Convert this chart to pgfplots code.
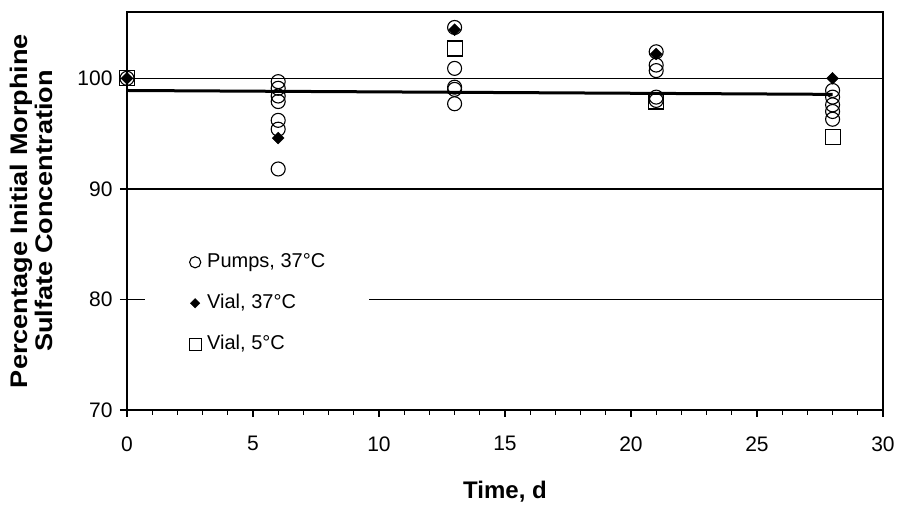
\documentclass[border=0pt]{standalone}
\usepackage{pgfplots}
\pgfplotsset{compat=1.18}
\usepackage{graphicx}
\usepackage{fontspec}
\setmainfont{Liberation Sans}
\begin{document}
\begin{tikzpicture}[x=1pt,y=1pt]
\path[use as bounding box] (-127,-95) rectangle (771,410);
\begin{axis}[
  at={(0,0)}, anchor=south west,
  scale only axis, width=756pt, height=398pt,
  xmin=0, xmax=30, ymin=70, ymax=106,
  xtick={0,5,...,30}, minor x tick num=4,
  ytick={70,80,90,100},
  tick align=outside,
  major tick length=7pt, minor tick length=5pt,
  xtick pos=bottom, ytick pos=left,
  ymajorgrids, grid style={black, line width=1.3pt},
  axis line style={line width=1.8pt},
  every tick/.style={black, line width=1.3pt},
  /pgf/number format/assume math mode=true,
  tick label style={font=\fontsize{21}{25}\selectfont},
  xticklabel style={yshift=-16pt},
  yticklabel style={xshift=-4pt},
  xlabel={Time, d},
  ylabel={\scalebox{1.13}[1]{\begin{tabular}{@{}c@{}}Percentage Initial Morphine\\[-3pt]Sulfate Concentration\end{tabular}}},
  every axis x label/.style={at={(axis description cs:0.5,-0.206)}, anchor=center, font=\fontsize{24}{28}\selectfont\bfseries},
  every axis y label/.style={at={(axis description cs:-0.1224,0.5)}, anchor=center, rotate=90, font=\fontsize{24}{28}\selectfont\bfseries},
  legend cell align=left,
  legend image code/.code={\draw[#1, every mark/.append style={scale=0.8}] plot coordinates {(0pt,0pt)};},
  legend style={at={(axis description cs:0.0238,0.432)}, anchor=north west,
    draw=none, fill=white, inner xsep=44pt, inner ysep=14pt,
    font=\fontsize{20}{24}\selectfont,
    nodes={inner sep=0pt, text height=15pt, text depth=5pt},
    row sep=21pt, column sep=6pt},
]
\addplot[only marks, mark=o, mark size=7pt, mark options={line width=1.1pt, black}] coordinates {
 (0,100)
 (6,99.7) (6,99.1) (6,98.4) (6,97.9) (6,96.2) (6,95.4) (6,91.8)
 (13,104.6) (13,100.9) (13,99.2) (13,99.0) (13,97.7)
 (21,102.4) (21,101.2) (21,100.7) (21,98.3) (21,98.0)
 (28,98.9) (28,98.3) (28,97.6) (28,97.0) (28,96.3)
};
\addlegendentry{Pumps, 37°C}
\addplot[only marks, mark=square*, mark size=4.2pt, mark options={black, fill=black, rotate=45}] coordinates {
 (0,100) (6,94.6) (13,104.4) (21,102.2) (28,100.0)
};
\addlegendentry{Vial, 37°C}
\addplot[only marks, mark=square, mark size=7.5pt, mark options={line width=1.1pt, black}] coordinates {
 (0,100) (13,102.7) (21,97.9) (28,94.7)
};
\addlegendentry{Vial, 5°C}
\addplot[black, line width=3pt, forget plot] coordinates {(0,98.9) (28,98.55)};
\end{axis}
\end{tikzpicture}
\end{document}
